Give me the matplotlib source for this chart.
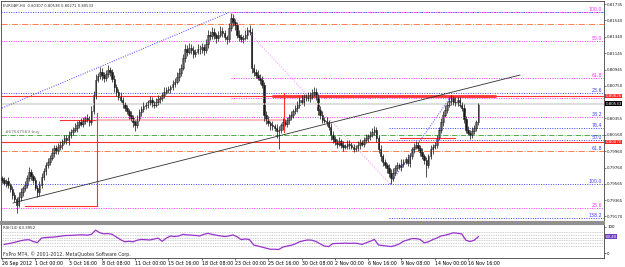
import numpy as np
import matplotlib
matplotlib.use("Agg")
import matplotlib.pyplot as plt
import matplotlib.transforms as mtransforms

# EURGBP H4 closes
closes = [
    0.7961, 0.7958, 0.7960, 0.7955, 0.7950, 0.7943, 0.7938, 0.7931, 0.7940, 0.7947,
    0.7951, 0.7955, 0.7963, 0.7971, 0.7966, 0.7961, 0.7952, 0.7946, 0.7955, 0.7965,
    0.7972, 0.7979, 0.7983, 0.7988, 0.7994, 0.8000, 0.7996, 0.8001, 0.8004, 0.8008,
    0.8012, 0.8009, 0.8015, 0.8019, 0.8022, 0.8024, 0.8028, 0.8031, 0.8029, 0.8033,
    0.8036, 0.8034, 0.8031, 0.8045, 0.8064, 0.8082, 0.8087, 0.8092, 0.8088, 0.8085,
    0.8089, 0.8094, 0.8092, 0.8083, 0.8073, 0.8068, 0.8062, 0.8058, 0.8053, 0.8048,
    0.8044, 0.8040, 0.8036, 0.8031, 0.8028, 0.8035, 0.8043, 0.8047, 0.8050, 0.8052,
    0.8055, 0.8058, 0.8054, 0.8052, 0.8056, 0.8059, 0.8060, 0.8064, 0.8068, 0.8070,
    0.8071, 0.8073, 0.8077, 0.8080, 0.8086, 0.8091, 0.8097, 0.8108, 0.8119, 0.8116,
    0.8121, 0.8118, 0.8114, 0.8116, 0.8120, 0.8119, 0.8122, 0.8118, 0.8125, 0.8137,
    0.8135, 0.8140, 0.8136, 0.8133, 0.8137, 0.8141, 0.8139, 0.8134, 0.8131, 0.8145,
    0.8157, 0.8152, 0.8149, 0.8137, 0.8134, 0.8131, 0.8133, 0.8137, 0.8142, 0.8140,
    0.8097, 0.8092, 0.8088, 0.8085, 0.8082, 0.8076, 0.8040, 0.8034, 0.8030, 0.8028,
    0.8026, 0.8024, 0.8020, 0.8022, 0.8027, 0.8031, 0.8029, 0.8034, 0.8037, 0.8040,
    0.8044, 0.8048, 0.8052, 0.8058, 0.8056, 0.8061, 0.8062, 0.8060, 0.8064, 0.8066,
    0.8068, 0.8062, 0.8046, 0.8040, 0.8034, 0.8033, 0.8031, 0.8025, 0.8016, 0.8011,
    0.8007, 0.8005, 0.8008, 0.8004, 0.8001, 0.8002, 0.8005, 0.8004, 0.8001, 0.7999,
    0.8000, 0.8003, 0.8007, 0.8005, 0.8009, 0.8012, 0.8014, 0.8016, 0.8019, 0.8022,
    0.8012, 0.7998, 0.7990, 0.7983, 0.7979, 0.7976, 0.7970, 0.7964, 0.7970, 0.7976,
    0.7979, 0.7977, 0.7981, 0.7983, 0.7986, 0.7982, 0.7990, 0.7998, 0.8001, 0.8004,
    0.8000, 0.7995, 0.7990, 0.7985, 0.7979, 0.7990, 0.7998, 0.8001, 0.8004, 0.8012,
    0.8022, 0.8031, 0.8040, 0.8046, 0.8052, 0.8057, 0.8060, 0.8056, 0.8054, 0.8058,
    0.8052, 0.8048, 0.8035, 0.8022, 0.8018, 0.8016, 0.8020, 0.8024, 0.8031, 0.80533,
]
first_open = 0.7963

# wick lengths in pips
upper_wick = [
    3, 4, 2, 5, 3, 4, 3, 2, 6, 4, 3, 5, 4, 6, 3, 2, 4, 3, 5, 4,
    3, 4, 5, 3, 6, 4, 3, 5, 4, 3, 4, 3, 5, 4, 3, 6, 4, 3, 5, 4,
    3, 5, 4, 6, 5, 7, 4, 6, 5, 4, 5, 6, 4, 3, 5, 4, 3, 6, 4, 3,
    4, 3, 5, 4, 3, 5, 4, 3, 6, 4, 3, 5, 4, 3, 4, 5, 3, 4, 5, 3,
    4, 3, 5, 4, 6, 5, 4, 6, 7, 5, 6, 4, 5, 3, 6, 4, 5, 3, 6, 5,
    4, 6, 5, 3, 4, 6, 5, 4, 3, 6, 6, 5, 4, 3, 5, 4, 3, 5, 4, 6,
    5, 4, 3, 6, 4, 5, 3, 4, 5, 3, 4, 3, 5, 4, 3, 5, 4, 3, 4, 5,
    3, 4, 5, 3, 6, 4, 3, 5, 4, 5, 5, 4, 3, 5, 4, 3, 4, 3, 5, 4,
    3, 4, 5, 3, 4, 3, 5, 4, 3, 4, 3, 5, 4, 3, 4, 5, 3, 4, 5, 4,
    3, 4, 5, 3, 4, 3, 5, 4, 6, 3, 4, 3, 5, 4, 3, 6, 4, 3, 5, 4,
    3, 4, 5, 3, 4, 3, 5, 4, 3, 4, 3, 5, 4, 6, 4, 5, 4, 3, 5, 4,
    3, 4, 5, 3, 4, 3, 5, 4, 3, 0.5,
]
lower_wick = [
    4, 3, 5, 4, 3, 5, 4, 10, 3, 4, 5, 3, 4, 3, 5, 4, 3, 6, 4, 3,
    4, 5, 3, 4, 3, 5, 4, 3, 4, 5, 3, 4, 5, 3, 4, 3, 5, 4, 3, 4,
    4, 3, 5, 3, 4, 5, 3, 4, 6, 5, 4, 3, 5, 4, 6, 5, 4, 3, 5, 4,
    3, 5, 4, 6, 8, 4, 3, 5, 4, 3, 4, 3, 5, 4, 3, 4, 5, 3, 4, 3,
    4, 5, 3, 4, 3, 5, 4, 3, 4, 5, 3, 4, 5, 4, 3, 5, 4, 6, 3, 4,
    5, 3, 4, 6, 4, 3, 5, 4, 6, 3, 4, 5, 6, 4, 5, 3, 4, 3, 5, 4,
    6, 5, 4, 3, 5, 4, 7, 5, 4, 6, 5, 4, 8, 22, 4, 5, 3, 4, 5, 3,
    4, 3, 5, 4, 3, 5, 4, 3, 4, 5, 3, 4, 6, 5, 4, 3, 5, 4, 6, 5,
    4, 5, 3, 4, 5, 3, 4, 5, 3, 4, 3, 4, 5, 3, 4, 3, 5, 4, 3, 4,
    5, 4, 6, 5, 4, 6, 5, 8, 4, 3, 4, 3, 5, 4, 3, 4, 5, 3, 4, 3,
    4, 5, 3, 4, 14, 3, 4, 5, 3, 4, 3, 4, 5, 3, 4, 3, 5, 4, 3, 4,
    3, 4, 5, 4, 3, 5, 4, 3, 4, 3.6,
]

# RSI(14), read at every second bar (bars 1, 3, ..., 229)
rsi_vals = [
    34, 37, 40, 44, 48, 51, 52, 45, 41, 58, 60, 61, 62, 64, 66, 68, 68, 69, 70, 70,
    69, 72, 88, 78, 74, 75, 72, 62, 52, 44, 46, 44, 50, 53, 52, 51, 54, 58, 46, 58,
    66, 64, 66, 72, 70, 69, 68, 66, 72, 76, 72, 69, 66, 64, 66, 70, 63, 52, 55, 52,
    32, 28, 24, 20, 16, 16, 15, 24, 28, 31, 36, 44, 48, 51, 50, 45, 36, 28, 26, 37,
    38, 38, 39, 38, 39, 38, 34, 40, 46, 53, 32, 30, 28, 26, 30, 36, 46, 51, 56, 56,
    53, 40, 44, 52, 58, 66, 69, 73, 78, 76, 74, 50, 45, 50, 63.4,
]
rsi_levels = [80, 70, 60, 50, 40, 30]

price_ticks = [0.81735, 0.81540, 0.81340, 0.81145, 0.80945, 0.80750, 0.80355,
               0.80160, 0.79960, 0.79760, 0.79565, 0.79365, 0.79170]
date_labels = ["26 Sep 2012", "1 Oct 00:00", "3 Oct 16:00", "8 Oct 08:00",
               "11 Oct 00:00", "15 Oct 16:00", "18 Oct 08:00", "23 Oct 00:00",
               "25 Oct 16:00", "30 Oct 08:00", "2 Nov 00:00", "6 Nov 16:00",
               "9 Nov 08:00", "14 Nov 00:00", "16 Nov 16:00"]

# chart objects
blue_full = [0.81642, 0.80663, 0.79562]
blue_right = [0.80239, 0.80094, 0.79151]
magenta_full = [0.81291, 0.80372, 0.79272]
magenta_mid = [0.81642, 0.80844, 0.80602]
orange_levels = [0.81497, 0.79961]
red_levels = [0.80626, 0.80070]
buy_level = 0.80155
bid = 0.80533
fib_labels = [
    (0.81642, "100.0", "#ff30ff"), (0.81291, "50.0", "#ff30ff"),
    (0.80844, "61.8", "#ff30ff"), (0.80663, "23.6", "#4040ff"),
    (0.80372, "38.2", "#4040ff"), (0.80239, "76.4", "#4040ff"),
    (0.80094, "50.0", "#4040ff"), (0.79961, "61.8", "#4040ff"),
    (0.79562, "100.0", "#4040ff"), (0.79272, "23.6", "#ff30ff"),
    (0.79151, "138.2", "#4040ff"),
]

n = len(closes)
x = np.arange(n)
opens = np.array([first_open] + closes[:-1])
c = np.array(closes)
hi = np.maximum(opens, c) + np.array(upper_wick) * 1e-4
lo = np.minimum(opens, c) - np.array(lower_wick) * 1e-4

fig = plt.figure(figsize=(6.25, 2.67), dpi=100)
ax = fig.add_axes([0.0016, 0.1685, 0.9648, 0.8277])
rx = fig.add_axes([0.0016, 0.0337, 0.9648, 0.1273])
xlim = (-0.48, 289.4)
fs = 3.4
afs = 2.9  # right axis labels

ax.set_xlim(*xlim)
ax.set_ylim(0.79103, 0.81775)
end = xlim[1]

# horizontal levels
ax.hlines(blue_full, xlim[0], end, colors="#4040ff", linestyles=(0, (1, 1.5)), lw=0.7)
ax.hlines(blue_right, 186, end, colors="#4040ff", linestyles=(0, (1, 1.5)), lw=0.7)
ax.hlines(magenta_full, xlim[0], end, colors="#ff30ff", linestyles=(0, (1, 1.5)), lw=0.7)
ax.hlines(magenta_mid, 110, end, colors="#ff30ff", linestyles=(0, (1, 1.5)), lw=0.7)
ax.hlines(orange_levels, xlim[0], end, colors="#ff7f50", linestyles="-.", lw=0.7)
ax.hlines(red_levels, xlim[0], end, colors="#ff3030", lw=0.8)
ax.hlines(red_levels[0], 130, 237.5, colors="#ff3030", lw=2.0)
ax.hlines(buy_level, xlim[0], end, colors="#30a030", linestyles="-.", lw=0.6)
ax.hlines(bid, xlim[0], end, colors="#d8d8d8", lw=1.2)
ax.text(1.5, buy_level + 0.0003, "#67647563 buy", fontsize=fs * 0.9, color="#707070")

# red boxes / segments
ax.plot([28, 45.7], [0.80336, 0.80336], color="#ff3030", lw=0.8)
ax.plot([45.7, 135.6], [0.80342, 0.80342], color="#ffb0b0", lw=1.2)
ax.plot([45.7, 45.7], [0.80420, 0.79297], color="#ff3030", lw=0.8)
ax.plot([11, 45.7], [0.79297, 0.79297], color="#ff3030", lw=0.8)
ax.plot([135.6, 135.6], [0.80663, 0.80191], color="#ff3030", lw=0.8)
ax.plot([191.3, 217.8], [0.80122, 0.80122], color="#ff3030", lw=0.8)

# trend lines
ax.plot([0, 109.6], [0.80481, 0.81642], color="#4040ff", ls=(0, (1, 1.5)), lw=0.7)
ax.plot([109.6, 186.5], [0.81642, 0.79562], color="#ffa0ff", ls=(0, (1, 1.5)), lw=0.8)
ax.plot([186.5, 216.3], [0.79562, 0.80638], color="#4040ff", ls=(0, (1, 1.5)), lw=0.7)
ax.plot([5.3, 249], [0.79333, 0.80880], color="#303030", lw=0.6)

# candles
ax.vlines(x, lo, hi, color="#202020", lw=0.55)
up = c >= opens
ax.bar(x, np.maximum(np.abs(c - opens), 1e-5), bottom=np.minimum(opens, c), width=0.75,
       color=np.where(up, "white", "black"), edgecolor="#202020", lw=0.4)

# fib labels at the right edge
for p, t, col in fib_labels:
    ax.text(288.5, p, t, fontsize=fs, color=col, ha="right", va="bottom")

ax.yaxis.tick_right()
ax.set_yticks(price_ticks)
ax.set_yticklabels([f"{v:.5f}" for v in price_ticks])
ax.tick_params(axis="y", labelsize=afs, length=1.5, pad=0.8, width=0.4, colors="#202020")
ax.set_xticks([])
for s in ax.spines.values():
    s.set_color("#404040")
    s.set_linewidth(0.6)
ax.spines["bottom"].set_color("#909090")
ax.spines["bottom"].set_linewidth(1.5)

tr = mtransforms.blended_transform_factory(ax.transAxes, ax.transData)
box = dict(boxstyle="square,pad=0.1", ec="none")
ax.text(1.003, red_levels[0], "0.80626", transform=tr, fontsize=afs, color="white",
        va="center", bbox=dict(box, fc="#ff2020"))
ax.text(1.003, red_levels[1], "0.80070", transform=tr, fontsize=afs, color="white",
        va="center", bbox=dict(box, fc="#ff2020"))
ax.text(1.003, bid, "0.80533", transform=tr, fontsize=afs, color="white",
        va="center", bbox=dict(box, fc="black"))

ax.text(0.004, 0.985, "EURGBP,H4  0.80307 0.80538 0.80271 0.80533", transform=ax.transAxes,
        fontsize=fs * 0.8, color="#303030", va="top")

# RSI window
rx.set_xlim(*xlim)
rx.set_ylim(-17, 111)
rx.hlines(rsi_levels, xlim[0], end, colors="#a0a0a0", linestyles=(0, (1, 1.5)), lw=0.5)
rx.plot(np.arange(1, n + 1, 2), rsi_vals, color="#9932cc", lw=0.9)
rx.yaxis.tick_right()
rx.set_yticks([0, 100])
rx.set_yticklabels(["0", "100"])
rx.tick_params(axis="y", labelsize=afs, length=1.5, pad=0.8, width=0.4)
rtr = mtransforms.blended_transform_factory(rx.transAxes, rx.transData)
rx.text(1.003, rsi_vals[-1], "63.40", transform=rtr, fontsize=afs, color="white",
        va="center", bbox=dict(box, fc="#7040c0"))
rx.text(0.004, 0.93, "RSI(14) 63.3952", transform=rx.transAxes, fontsize=fs * 0.85,
        color="#303030", va="top")
rx.text(0.004, 0.03, "FxPro MT4, \u00a9 2001-2012, MetaQuotes Software Corp.",
        transform=rx.transAxes, fontsize=fs, color="#303030", va="bottom")
rx.set_xticks(np.arange(0, 16 * len(date_labels), 16))
rx.set_xticklabels(date_labels, ha="left")
rx.tick_params(axis="x", labelsize=fs, length=1.5, pad=1, width=0.4)
for s in rx.spines.values():
    s.set_color("#404040")
    s.set_linewidth(0.6)
rx.spines["top"].set_color("#909090")
rx.spines["top"].set_linewidth(1.5)

fig.savefig("out.png", dpi=100)
